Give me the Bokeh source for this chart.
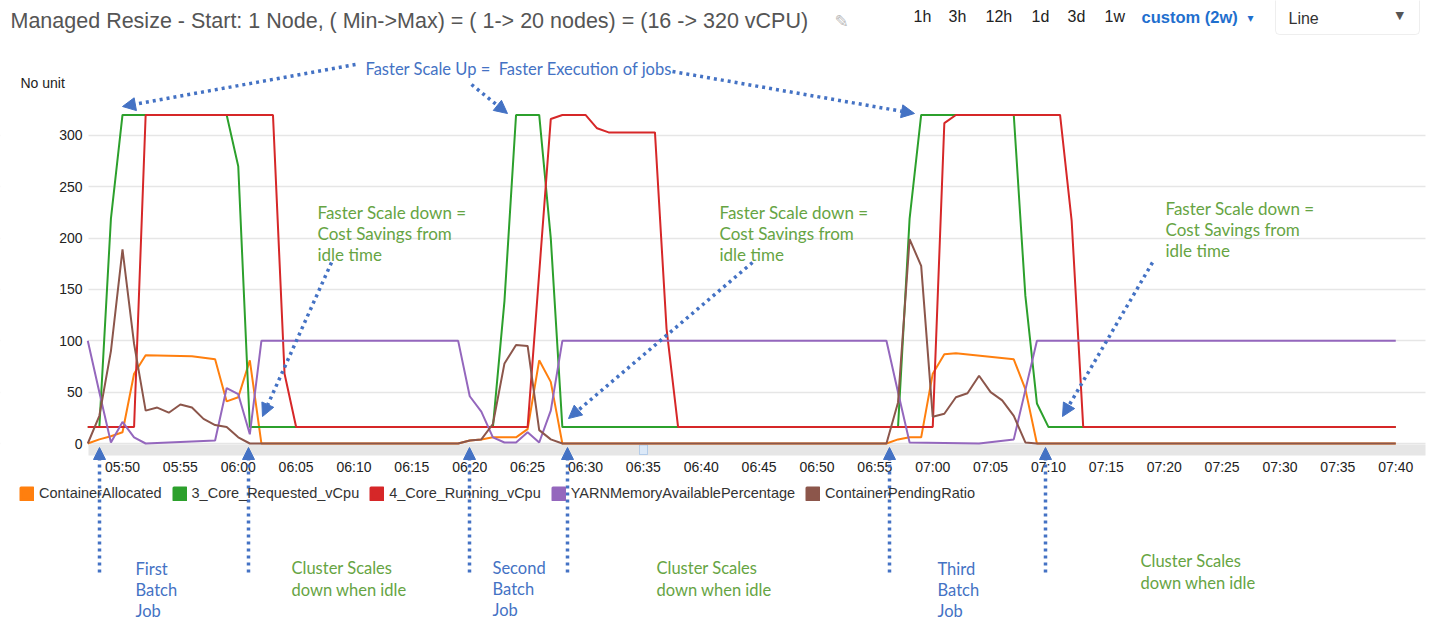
import pandas as pd
from bokeh.plotting import figure
from bokeh.models import (Range1d, FixedTicker, Label, Arrow, NormalHead,
                          BoxAnnotation, Legend, LegendItem, ColumnDataSource)
from bokeh.embed import file_html
from bokeh.resources import INLINE

# ---------------- data ----------------
series_names = ["ContainerAllocated", "3_Core_Requested_vCpu", "4_Core_Running_vCpu",
                "YARNMemoryAvailablePercentage", "ContainerPendingRatio"]
series_colors = ["#ff7f0e", "#2ca02c", "#d62728", "#9467bd", "#8c564b"]

alloc_t = ["05:47", "05:48", "05:49", "05:50", "05:51", "05:52", "05:56", "05:58", "05:59", "06:00",
           "06:01", "06:02", "06:19", "06:20", "06:21", "06:22", "06:24", "06:25", "06:26", "06:27",
           "06:28", "06:56", "06:57", "06:58", "06:59", "07:00", "07:01", "07:02", "07:07", "07:08",
           "07:09", "07:40"]
alloc_v = [0, 4, 7, 11, 68, 86, 85, 82, 41, 45,
           81, 0, 0, 3, 4, 6, 6, 14, 81, 60,
           0, 0, 4, 6, 6, 68, 87, 88, 82, 53,
           0, 0]

req_t = ["05:47", "05:48", "05:49", "05:50", "05:59", "06:00", "06:01", "06:22", "06:23", "06:24",
         "06:26", "06:27", "06:28", "06:57", "06:58", "06:59", "07:07", "07:08", "07:09", "07:10",
         "07:40"]
req_v = [16, 16, 219, 320, 320, 270, 16, 16, 139, 320,
         320, 200, 16, 16, 219, 320, 320, 144, 39, 16,
         16]

run_t = ["05:47", "05:51", "05:52", "06:03", "06:04", "06:05", "06:25", "06:27", "06:28", "06:30",
         "06:31", "06:32", "06:36", "06:37", "06:38", "07:00", "07:01", "07:02", "07:11", "07:12",
         "07:13", "07:40"]
run_v = [16, 16, 320, 320, 68, 16, 16, 316, 320, 320,
         307, 303, 303, 112, 16, 16, 312, 320, 320, 217,
         16, 16]

mem_t = ["05:47", "05:48", "05:49", "05:50", "05:51", "05:52", "05:58", "05:59", "06:00", "06:01",
         "06:02", "06:19", "06:20", "06:21", "06:22", "06:23", "06:24", "06:25", "06:26", "06:27",
         "06:28", "06:56", "06:57", "06:58", "07:04", "07:07", "07:08", "07:09", "07:40"]
mem_v = [100, 50, 1, 21, 6, 0, 3, 54, 48, 9,
         100, 100, 46, 31, 6, 1, 1, 11, 1, 32,
         100, 100, 50, 1, 0, 4, 52, 100, 100]

pend_t = ["05:47", "05:48", "05:49", "05:50", "05:51", "05:52", "05:53", "05:54", "05:55", "05:56",
          "05:57", "05:58", "05:59", "06:00", "06:01", "06:19", "06:20", "06:21", "06:22", "06:23",
          "06:24", "06:25", "06:26", "06:27", "06:28", "06:56", "06:57", "06:58", "06:59", "07:00",
          "07:01", "07:02", "07:03", "07:04", "07:05", "07:06", "07:07", "07:08", "07:09", "07:40"]
pend_v = [0, 27, 90, 189, 97, 32, 35, 30, 38, 35,
          24, 18, 16, 6, 0, 0, 3, 4, 19, 78,
          96, 95, 13, 4, 0, 0, 40, 199, 173, 26,
          29, 45, 49, 66, 50, 42, 27, 1, 0, 0]

x_tick_labels = ["05:50", "05:55", "06:00", "06:05", "06:10", "06:15", "06:20", "06:25", "06:30",
                 "06:35", "06:40", "06:45", "06:50", "06:55", "07:00", "07:05", "07:10", "07:15",
                 "07:20", "07:25", "07:30", "07:35", "07:40"]
y_ticks = [0, 50, 100, 150, 200, 250, 300]

title_text = "Managed Resize - Start: 1 Node, ( Min->Max) = ( 1-> 20 nodes) = (16 -> 320 vCPU)"
range_buttons = ["1h", "3h", "12h", "1d", "3d", "1w"]


def mins(hhmm):
    h, m = hhmm.split(":")
    return int(h) * 60 + int(m)


# ---------------- page geometry helpers (pixels -> data) ----------------
W, H = 1434, 622
PX_X0 = 122.0          # page x of 05:50
PX_PER_MIN = 11.575
PY_ZERO = 443.0        # page y of value 0
PX_PER_UNIT = 1.0267
M_REF = mins("05:50")
PLOT_L, PLOT_R, PLOT_B = 88, 1425, 455


def X(px):
    return M_REF + (px - PX_X0) / PX_PER_MIN


def Y(py):
    return (PY_ZERO - py) / PX_PER_UNIT


p = figure(width=W, height=H, output_backend="svg", toolbar_location=None,
           x_range=Range1d(X(0), X(W)), y_range=Range1d(Y(H), Y(0)),
           min_border=0, min_border_left=0, min_border_right=0,
           min_border_top=0, min_border_bottom=0)
p.outline_line_color = None
p.background_fill_color = "white"
p.border_fill_color = "white"

# axes (library axes, pinned at the plot-area edges)
p.xaxis.ticker = FixedTicker(ticks=[mins(t) for t in x_tick_labels])
p.xaxis.major_label_overrides = {mins(t): t for t in x_tick_labels}
p.xaxis.fixed_location = Y(PLOT_B)
p.yaxis.ticker = FixedTicker(ticks=y_ticks)
p.yaxis.fixed_location = X(PLOT_L)
for ax in (p.xaxis[0], p.yaxis[0]):
    ax.axis_line_color = None
    ax.major_tick_line_color = None
    ax.minor_tick_line_color = None
    ax.major_tick_out = 0
    ax.major_tick_in = 0
    ax.major_label_text_font = "Liberation Sans"
    ax.major_label_text_font_size = "14px"
    ax.major_label_text_color = "#222222"
p.xaxis.major_label_standoff = 3
p.yaxis.major_label_standoff = 6
p.xgrid.grid_line_color = None
p.ygrid.grid_line_color = "#e6e6e6"
p.ygrid.grid_line_width = 1.5

# keep grid lines inside the plot area; navigator band under the plot
p.add_layout(BoxAnnotation(right=X(PLOT_L), fill_color="white", fill_alpha=1.0,
                           line_color=None, level="underlay"))
p.add_layout(BoxAnnotation(left=X(PLOT_R), fill_color="white", fill_alpha=1.0,
                           line_color=None, level="underlay"))
p.add_layout(BoxAnnotation(left=X(PLOT_L), right=X(PLOT_R), top=Y(444), bottom=Y(PLOT_B),
                           fill_color="#e6e6e6", fill_alpha=1.0, line_color=None,
                           level="underlay"))
p.add_layout(BoxAnnotation(left=X(639), right=X(647), top=Y(444.5), bottom=Y(454),
                           fill_color="#dce9f8", fill_alpha=1.0, line_color="#4a8fdb",
                           line_width=1, level="underlay"))

# series
all_t = [alloc_t, req_t, run_t, mem_t, pend_t]
all_v = [alloc_v, req_v, run_v, mem_v, pend_v]
items = []
for name, color, ts, vs in zip(series_names, series_colors, all_t, all_v):
    src = ColumnDataSource(dict(x=[mins(t) for t in ts], y=vs))
    p.line("x", "y", source=src, line_color=color, line_width=2)
NAN = float("nan")
for name, color in zip(series_names, series_colors):
    # legend-only swatch renderer (no drawable data)
    dummy = p.quad(left=[NAN], right=[NAN], top=[NAN], bottom=[NAN], fill_color=color,
                   line_color=color, line_width=3, line_join="round")
    items.append(LegendItem(label=name, renderers=[dummy]))

legend = Legend(items=items, orientation="horizontal", location=(19, 119),
                glyph_width=15, glyph_height=15, label_standoff=5, spacing=10,
                padding=0, margin=0, border_line_color=None, background_fill_alpha=0,
                label_text_font="Liberation Sans", label_text_font_size="14.5px",
                label_text_color="#333333", label_height=20)
p.add_layout(legend, "center")


# ---------------- header texts ----------------
def add_text(txt, px, py, color, size="16.5px", font="Lato", style="normal", align="left"):
    p.add_layout(Label(x=X(px), y=Y(py), text=txt, text_color=color, text_font=font,
                       text_font_size=size, text_font_style=style, text_align=align,
                       text_baseline="middle"))


add_text(title_text, 10, 20, "#555555", size="21.5px", font="Liberation Sans")
add_text("\u270e", 834, 20, "#bbbbbb", size="17px", font="DejaVu Sans")
for lbl, px in zip(range_buttons, [913, 948, 985, 1031, 1067, 1104]):
    add_text(lbl, px, 16, "#222222", size="16px", font="Liberation Sans")
add_text("custom (2w)", 1141, 16, "#1f6fce", size="16.5px", font="Liberation Sans", style="bold")
add_text("\u25be", 1247, 17, "#1f6fce", size="12px", font="DejaVu Sans")
p.add_layout(BoxAnnotation(left=X(1275), right=X(1419), top=Y(-4), bottom=Y(34),
                           fill_color="white", fill_alpha=1.0, line_color="#c8c8c8",
                           line_width=1, border_radius=4))
add_text("Line", 1288, 18, "#333333", size="16px", font="Liberation Sans")
add_text("\u25bc", 1395, 15, "#555555", size="11px", font="DejaVu Sans")
add_text("No unit", 20, 82, "#222222", size="14px", font="Liberation Sans")

# ---------------- annotations ----------------
BLUE = "#4472C4"
GREEN = "#66A443"

add_text("Faster Scale Up =\u00a0 Faster Execution of jobs", 365, 68, BLUE)
for px, py in [(317, 212), (719, 212), (1165, 208)]:
    for i, line in enumerate(["Faster Scale down =", "Cost Savings from", "idle time"]):
        add_text(line, px, py + 21 * i, GREEN, size="17px")
for px, py, first in [(135, 568, "First"), (492, 567, "Second"), (937, 568, "Third")]:
    for i, line in enumerate([first, "Batch", "Job"]):
        add_text(line, px, py + 21 * i, BLUE)
for px, py in [(291, 567), (656, 567), (1140, 560)]:
    for i, line in enumerate(["Cluster Scales", "down when idle"]):
        add_text(line, px, py + 22 * i, GREEN)


def add_arrow(x0, y0, x1, y1, head=13):
    p.add_layout(Arrow(x_start=X(x0), y_start=Y(y0), x_end=X(x1), y_end=Y(y1),
                       line_color=BLUE, line_width=3.5, line_dash="3 4",
                       end=NormalHead(size=head, fill_color=BLUE, line_color=BLUE,
                                      line_width=1)))


add_arrow(355, 64, 122, 106)
add_arrow(471, 84, 507, 113)
add_arrow(672, 71, 914, 113)
add_arrow(331, 262, 262, 416)
add_arrow(752, 262, 568, 418)
add_arrow(1152, 262, 1062, 416)
for vx in [99, 248, 469, 567, 889, 1045]:
    add_arrow(vx, 572, vx, 447, head=12)

open("out.html", "w").write(file_html(p, INLINE))
